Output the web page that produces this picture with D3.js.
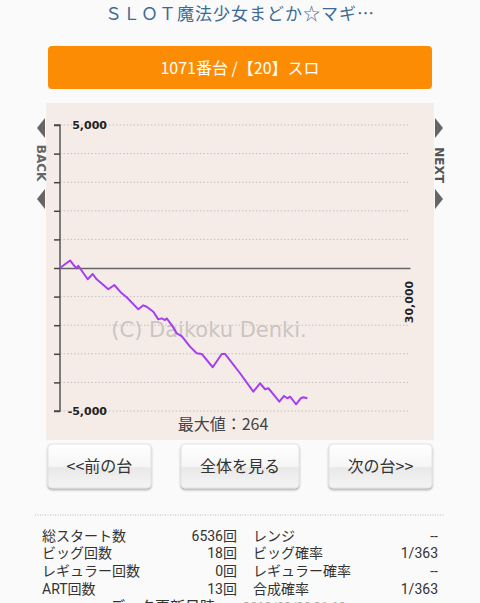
<!DOCTYPE html>
<html>
<head>
<meta charset="utf-8">
<script src="https://cdn.jsdelivr.net/npm/d3@7"></script>
<style>
body{margin:0;background:#fafafa;font-family:"Noto Sans CJK JP","Noto Sans",sans-serif;overflow:hidden;}
.stat{font-family:Roboto,"Noto Sans CJK JP",sans-serif;}
</style>
</head>
<body>
<svg id="page"></svg>
<script>
// data: games played vs. coin difference
const games = [0,264,350,439,481,728,860,965,1270,1428,1622,1754,2059,2190,2279,2453,2584,2674,2760,2805,2937,3068,3200,3418,3594,3725,4015,4251,4338,4732,5082,5258,5390,5476,5566,5765,5889,5976,6047,6118,6205,6328,6397,6502];
const diff = [0,264,115,-10,80,-395,-210,-395,-745,-595,-885,-1025,-1445,-1305,-1355,-1530,-1795,-1760,-1820,-1760,-1995,-2285,-2380,-2750,-2980,-3005,-3470,-3005,-3005,-3680,-4325,-4030,-4240,-4205,-4345,-4675,-4475,-4555,-4500,-4615,-4765,-4555,-4520,-4555];
const yTicks = [-5000,-4000,-3000,-2000,-1000,0,1000,2000,3000,4000,5000];
const yLabels = ["5,000","-5,000"];
const xMaxLabel = "30,000";

const statLabels1 = ["総スタート数","ビッグ回数","レギュラー回数","ART回数"];
const statValues1 = ["6536回","18回","0回","13回"];
const statLabels2 = ["レンジ","ビッグ確率","レギュラー確率","合成確率"];
const statValues2 = ["--","1/363","--","1/363"];
const buttons = ["<<前の台","全体を見る","次の台>>"];

const W = 480, H = 603;
const svg = d3.select("#page").attr("width",W).attr("height",H);

const defs = svg.append("defs");
let grad = defs.append("linearGradient").attr("id","btn").attr("x1",0).attr("y1",0).attr("x2",0).attr("y2",1);
grad.append("stop").attr("offset","0%").attr("stop-color","#ffffff");
grad.append("stop").attr("offset","50%").attr("stop-color","#f6f6f6");
grad.append("stop").attr("offset","55%").attr("stop-color","#e9e9e9");
grad.append("stop").attr("offset","100%").attr("stop-color","#f4f4f4");
let sh = defs.append("filter").attr("id","shadow").attr("x","-10%").attr("y","-10%").attr("width","120%").attr("height","140%");
sh.append("feDropShadow").attr("dx",0).attr("dy",1.5).attr("stdDeviation",1.2).attr("flood-color","#000").attr("flood-opacity",0.35);

// title
svg.append("text").attr("x",240).attr("y",20).attr("text-anchor","middle")
  .attr("font-size",17).attr("fill","#3d6a95").attr("letter-spacing",1)
  .text("ＳＬＯＴ魔法少女まどか☆マギ…");

// orange header
svg.append("rect").attr("x",48).attr("y",46).attr("width",384).attr("height",43).attr("rx",4).attr("fill","#fd8c05");
svg.append("text").attr("x",240).attr("y",74).attr("text-anchor","middle")
  .attr("font-size",16).attr("fill","#fff").text("1071番台 /【20】スロ");

// chart panel
svg.append("rect").attr("x",46).attr("y",103).attr("width",388).attr("height",337).attr("fill","#f5ece8");

const x = d3.scaleLinear().domain([0,9200]).range([60,410]);
const y = d3.scaleLinear().domain([-5000,5000]).range([411,125]);

// grid
svg.append("g").selectAll("line").data(yTicks.filter(d=>d!==0)).enter().append("line")
  .attr("x1",x(0)).attr("x2",x(9200)).attr("y1",d=>y(d)).attr("y2",d=>y(d))
  .attr("stroke","#c8c0bc").attr("stroke-dasharray","1.5,2").attr("stroke-width",1);

// watermark
svg.append("text").attr("x",209).attr("y",337).attr("text-anchor","middle")
  .attr("font-family","DejaVu Sans,sans-serif").attr("font-size",21).attr("fill","#cbc5c2")
  .text("(C) Daikoku Denki.");

// y axis
let yAxis = d3.axisLeft(y).tickValues(yTicks).tickSize(6).tickFormat("");
let gy = svg.append("g").attr("transform","translate(60,0)").call(yAxis);
gy.select(".domain").attr("stroke","#555").attr("stroke-width",1.5).attr("d","M-6,"+y(5000)+"H0V"+y(-5000)+"H-6");
gy.selectAll(".tick line").attr("stroke","#444").attr("stroke-width",1.5);

// zero line (x axis)
let xAxis = d3.axisBottom(x).tickValues([]).tickSizeOuter(0);
let gx = svg.append("g").attr("transform","translate(0,"+y(0)+")").call(xAxis);
gx.select(".domain").attr("stroke","#666").attr("stroke-width",1.5);

svg.append("text").attr("x",107).attr("y",y(5000)+4).attr("text-anchor","end")
  .attr("font-family","DejaVu Sans,sans-serif").attr("font-size",11).attr("font-weight","bold").attr("fill","#222").text(yLabels[0]);
svg.append("text").attr("x",107).attr("y",y(-5000)+4).attr("text-anchor","end")
  .attr("font-family","DejaVu Sans,sans-serif").attr("font-size",11).attr("font-weight","bold").attr("fill","#222").text(yLabels[1]);
svg.append("text").attr("transform","translate(413,302) rotate(-90)").attr("text-anchor","middle")
  .attr("font-family","DejaVu Sans,sans-serif").attr("font-size",11).attr("font-weight","bold").attr("fill","#222").text(xMaxLabel);

// line
let pts = games.map((g,i)=>[g,diff[i]]);
svg.append("path").datum(pts)
  .attr("d",d3.line().x(d=>x(d[0])).y(d=>y(d[1])))
  .attr("fill","none").attr("stroke","#a53ff0").attr("stroke-width",2).attr("stroke-linejoin","round");

// max value
svg.append("text").attr("x",223).attr("y",430).attr("text-anchor","middle")
  .attr("font-size",16).attr("fill","#444").text("最大値：" + d3.max(diff));

// back / next
function arrow(cx,cy,dir){
  let p = dir<0 ? [[cx+4,cy-10],[cx+4,cy+10],[cx-4,cy]] : [[cx-4,cy-10],[cx-4,cy+10],[cx+4,cy]];
  svg.append("path").attr("d","M"+p.join("L")+"Z").attr("fill","#666");
}
arrow(41,128,-1); arrow(41,199,-1);
arrow(439,128,1); arrow(439,199,1);
svg.append("text").attr("transform","translate(37,163) rotate(90)").attr("text-anchor","middle")
  .attr("font-family","DejaVu Sans,sans-serif").attr("font-size",12).attr("font-weight","bold").attr("fill","#666").text("BACK");
svg.append("text").attr("transform","translate(435,165) rotate(90)").attr("text-anchor","middle")
  .attr("font-family","DejaVu Sans,sans-serif").attr("font-size",12).attr("font-weight","bold").attr("fill","#555").text("NEXT");

// buttons
const btnX = [48,181,329], btnW = [103,118,103];
buttons.forEach((b,i)=>{
  svg.append("rect").attr("x",btnX[i]).attr("y",444).attr("width",btnW[i]).attr("height",44).attr("rx",4)
    .attr("fill","url(#btn)").attr("stroke","#ddd").attr("stroke-width",0.8).attr("filter","url(#shadow)");
  svg.append("text").attr("x",btnX[i]+btnW[i]/2).attr("y",472).attr("text-anchor","middle")
    .attr("font-size",16).attr("fill","#333").text(b);
});

// separator
svg.append("line").attr("x1",35).attr("x2",445).attr("y1",515).attr("y2",515)
  .attr("stroke","#bbb").attr("stroke-dasharray","1,1.5");

// stats table
const rowY = [541,558,576,594];
rowY.forEach((ry,i)=>{
  svg.append("text").attr("class","stat").attr("x",42).attr("y",ry).attr("font-size",14).attr("fill","#333").text(statLabels1[i]);
  svg.append("text").attr("class","stat").attr("x",237).attr("y",ry).attr("text-anchor","end").attr("font-size",14).attr("fill","#333").text(statValues1[i]);
  svg.append("text").attr("class","stat").attr("x",253).attr("y",ry).attr("font-size",14).attr("fill","#333").text(statLabels2[i]);
  svg.append("text").attr("class","stat").attr("x",438).attr("y",ry).attr("text-anchor","end").attr("font-size",14).attr("fill","#333").text(statValues2[i]);
});
svg.append("text").attr("x",110).attr("y",612).attr("font-size",15).attr("fill","#333").text("データ更新日時");
svg.append("text").attr("x",243).attr("y",612).attr("font-size",13).attr("fill","#aaa").text("2019/02/28 21:19");
</script>
</body>
</html>
